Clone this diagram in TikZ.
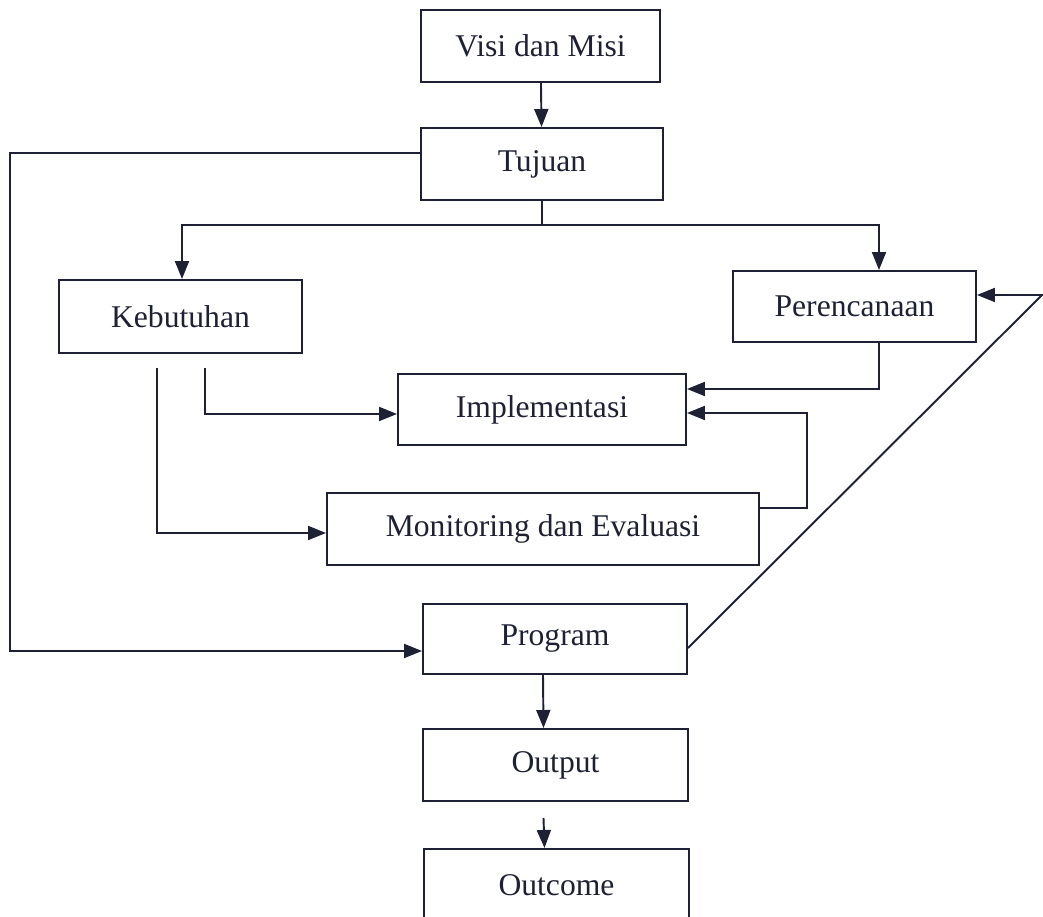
\documentclass[tikz,border=0pt]{standalone}
\usepackage{fontspec}
\setmainfont{Liberation Serif}
\usepackage{xcolor}
\usetikzlibrary{arrows.meta}
\definecolor{ink}{RGB}{30,33,52}

\begin{document}
\begin{tikzpicture}[scale=1,
        box/.style={draw=ink, line width=1.1pt, minimum height=1.44cm, inner sep=0pt,
            text=ink, font=\fontsize{18}{21}\selectfont},
        arr/.style={draw=ink, line width=1.1pt, -{Triangle[length=0.36cm,width=0.28cm]}},
        ln/.style={draw=ink, line width=1.1pt}]
        \useasboundingbox (0,0) rectangle (20.86,18.34);

        % 定义各个方框
        \node (visi) at (10.81,17.42) [box, minimum width=4.78cm] {Visi dan Misi};
        \node (tujuan) at (10.84,15.06) [box, minimum width=4.84cm] {Tujuan};
        \node (kebutuhan) at (3.61,12.01) [box, minimum width=4.86cm, minimum height=1.46cm] {Kebutuhan};
        \node (perencanaan) at (17.09,12.21) [box, minimum width=4.86cm, minimum height=1.42cm] {Perencanaan};
        \node (implementasi) at (10.84,10.15) [box, minimum width=5.76cm, minimum height=1.42cm] {Implementasi};
        \node (monitoring) at (10.86,7.76) [box, minimum width=8.64cm] {Monitoring dan Evaluasi};
        \node (program) at (11.10,5.56) [box, minimum width=5.28cm, minimum height=1.40cm] {Program};
        \node (output) at (11.11,3.04) [box, minimum width=5.30cm] {Output};
        \node (outcome) at (11.13,0.64) [box, minimum width=5.30cm] {Outcome};

        % 辅助点
        \coordinate (lft) at (0.2,5.32);
        \coordinate (kb1) at ([xshift=0.49cm,yshift=-0.28cm]kebutuhan.south);
        \coordinate (kb2) at ([xshift=-0.47cm,yshift=-0.28cm]kebutuhan.south);
        \coordinate (mr) at (16.14,10.08);
        \coordinate (pr) at (20.84,12.44);
        \coordinate (oc) at ([xshift=-0.24cm,yshift=-0.32cm]output.south);

        % 绘制连线
        \draw[arr] (visi) -- (tujuan);
        \draw[arr] ([yshift=0.22cm]tujuan.west) -| (lft) -- ([yshift=-0.24cm]program.west);
        \draw[arr] (tujuan.south) -- ++(0,-0.48) -| ([xshift=0.03cm]kebutuhan.north);
        \draw[arr] (tujuan.south) -- ++(0,-0.48) -| ([xshift=0.49cm]perencanaan.north);
        \draw[arr] (kb1) |- ([yshift=-0.09cm]implementasi.west);
        \draw[arr] (kb2) |- ([yshift=-0.08cm]monitoring.west);
        \draw[arr] ([xshift=0.49cm]perencanaan.south) |- ([yshift=0.41cm]implementasi.east);
        \draw[arr] ([yshift=0.42cm]monitoring.east) -| (mr) -- ([yshift=-0.07cm]implementasi.east);
        \draw[arr] ([yshift=-0.18cm]program.east) -- (pr) -- ([yshift=0.23cm]perencanaan.east);
        \draw[arr] ([xshift=-0.24cm]program.south) -- ([xshift=-0.24cm]output.north);
        \draw[arr] (oc) -- ([xshift=-0.24cm]outcome.north);
    \end{tikzpicture}
\end{document}
